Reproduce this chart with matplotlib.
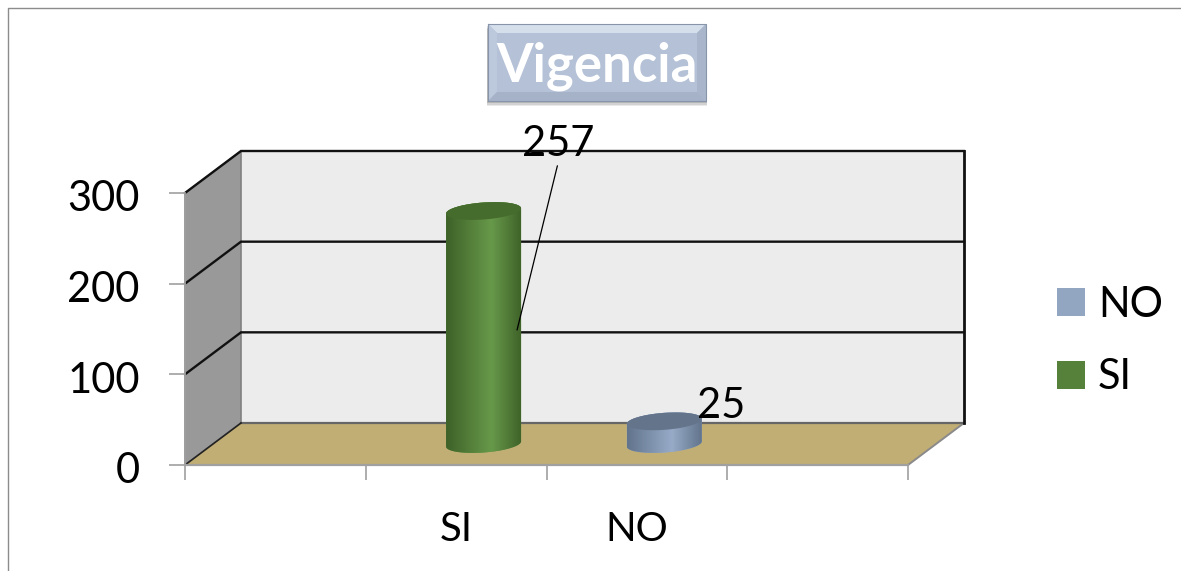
#!/usr/bin/env python3
"""Vigencia: fake 3D cylinder chart, SI vs NO."""

import matplotlib
matplotlib.use('Agg')
import matplotlib.pyplot as plt
import numpy as np
from matplotlib.colors import LinearSegmentedColormap
from matplotlib.patches import Patch, Polygon, Rectangle
from matplotlib.transforms import ScaledTranslation

plt.rcParams['font.family'] = ['Lato', 'DejaVu Sans']

TITLE = 'Vigencia'
CATEGORIES = ['', 'SI', 'NO', '']
VALUES = [257, 25]
BAR_SLOTS = [1, 2]
BAR_NAMES = ['SI', 'NO']
Y_TICKS = [0, 100, 200, 300]

W, H = 1181, 571
LEFT, RIGHT, BOTTOM, TOP = 185, 908, 465, 193

fig = plt.figure(figsize=(W / 100, H / 100), dpi=100, facecolor='white')
ax = fig.add_axes([LEFT / W, 1 - BOTTOM / H,
                   (RIGHT - LEFT) / W, (BOTTOM - TOP) / H])
ax.set_xlim(-0.5, 3.5)
ax.set_ylim(0, 300)
ax.patch.set_visible(False)

# data units per pixel, so the depth can be given in pixels
ux = 4.0 / (RIGHT - LEFT)
uy = 300.0 / (BOTTOM - TOP)
DX = 56 * ux
DY = 42 * uy
x0, x1 = -0.5, 3.5

# walls and floor
ax.add_patch(Polygon([(x0 + DX, DY), (x1 + DX, DY), (x1 + DX, 300 + DY),
                      (x0 + DX, 300 + DY)], fc='#ececec', ec='none',
                     clip_on=False, zorder=1))
ax.add_patch(Polygon([(x0, 0), (x0 + DX, DY), (x0 + DX, 300 + DY), (x0, 300)],
                     fc='#999999', ec='#808080', lw=1.2,
                     clip_on=False, zorder=1))
ax.add_patch(Polygon([(x0, 0), (x1, 0), (x1 + DX, DY), (x0 + DX, DY)],
                     fc='#c1ae74', ec='none', clip_on=False, zorder=1.2))
ax.plot([x1, x1 + DX], [0, DY], color='#8a8a8a', lw=1.4, clip_on=False, zorder=1.3)
ax.plot([x0 + DX, x1 + DX], [DY, DY], color='#666666', lw=1.6, clip_on=False, zorder=1.3)
ax.plot([x0, x0 + DX], [0, DY], color='#222222', lw=1.2, clip_on=False, zorder=1.3)

# gridlines run along side wall then back wall
for v in Y_TICKS[1:]:
    ax.plot([x0, x0 + DX, x1 + DX], [v, v + DY, v + DY], color='#111111',
            lw=1.7, clip_on=False, zorder=1.4, solid_joinstyle='miter')
ax.plot([x1 + DX, x1 + DX], [DY, 300 + DY], color='#111111', lw=2.0,
        clip_on=False, zorder=1.4)


def ellipse(cx, cy, a_px=37.5, b_px=8.5, tilt=0.07, start=0.0, stop=2 * np.pi):
    t = np.linspace(start, stop, 80)
    x = cx + a_px * ux * np.cos(t)
    y = cy + (b_px * np.sin(t) + tilt * a_px * np.cos(t)) * uy
    return np.column_stack([x, y])


def cylinder(slot, value, edge, mid, top):
    cx = slot + DX * 0.49
    base = DY * 0.5
    cmap = LinearSegmentedColormap.from_list(
        'cyl', [(0, edge), (0.6, mid), (1, edge)])
    outline = np.vstack([ellipse(cx, base, start=np.pi, stop=2 * np.pi),
                         ellipse(cx, base + value, start=0, stop=np.pi)])
    body = Polygon(outline, fc=mid, ec='none', clip_on=False, zorder=3)
    ax.add_patch(body)
    half = 37.5 * ux
    grad = np.linspace(0, 1, 256).reshape(1, -1)
    im = ax.imshow(grad, cmap=cmap, aspect='auto', zorder=3.1,
                   extent=[cx - half, cx + half, base - 15, base + value + 15])
    im.set_clip_path(body)
    ax.add_patch(Polygon(ellipse(cx, base + value), fc=top, ec='none',
                         clip_on=False, zorder=3.2))
    return cx, base + value


top_si = cylinder(BAR_SLOTS[0], VALUES[0], '#3e6128', '#67994a', '#456b2d')
top_no = cylinder(BAR_SLOTS[1], VALUES[1], '#62748c', '#97abc8', '#64748a')
ax.set_xlim(x0, x1)
ax.set_ylim(0, 300)

# data labels, the big one has a leader line down to the cylinder
ax.annotate(str(VALUES[0]), xy=(top_si[0] + 33.5 * ux, top_si[1] - 119 * uy),
            xytext=(top_si[0] + 74.5 * ux, top_si[1] + 67 * uy),
            ha='center', va='center', fontsize=30, color='black', zorder=5,
            annotation_clip=False,
            arrowprops=dict(arrowstyle='-', color='black', lw=0.9,
                            shrinkA=0, shrinkB=0, relpos=(0.5, 0)))
ax.text(top_no[0] + 57 * ux, top_no[1] + 15 * uy, str(VALUES[1]),
        ha='center', va='center', fontsize=30, color='black', zorder=5)

# axes
for side in ['top', 'right']:
    ax.spines[side].set_visible(False)
ax.spines['left'].set_color('#a0a0a0')
ax.spines['bottom'].set_color('#a0a0a0')
ax.spines['left'].set_linewidth(1.3)
ax.spines['bottom'].set_linewidth(1.6)
ax.set_yticks(Y_TICKS)
ax.set_xticks(np.arange(-0.5, 4, 1))
ax.set_xticklabels([])
ax.set_xticks(range(len(CATEGORIES)), CATEGORIES, minor=True)
ax.tick_params(axis='y', length=11.5, width=1.2, color='#a0a0a0', pad=21,
               labelsize=30)
ax.tick_params(axis='x', which='major', length=11, width=1.2, color='#a0a0a0')
ax.tick_params(axis='x', which='minor', length=0, pad=33, labelsize=29)
shift = ScaledTranslation(0, -2 / 72, fig.dpi_scale_trans)
for lab in ax.get_yticklabels():
    lab.set_transform(lab.get_transform() + shift)

# legend, NO goes first as in the source
order = [1, 0]
colors = ['#56813a', '#92a6c2']
handles = [Patch(fc=colors[i], ec='none', label=BAR_NAMES[i]) for i in order]
fig.legend(handles=handles, loc='center left',
           bbox_to_anchor=(1019.5 / W, 1 - 341 / H), frameon=False, fontsize=30,
           handlelength=0.67, handleheight=0.65, handletextpad=0.31,
           labelspacing=0.83)

# pixel overlay for chart frame and title box
ov = fig.add_axes([0, 0, 1, 1], zorder=10)
ov.set_xlim(0, W)
ov.set_ylim(H, 0)
ov.axis('off')
ov.plot([7.5, 7.5, W], [H, 7.5, 7.5], color='#8c8c8c', lw=1.0)

bx0, bx1, by0, by1 = 488, 706, 24, 101
bev = 9
for off, a in [(5, 0.12), (3.5, 0.16), (2, 0.22)]:
    ov.add_patch(Rectangle((bx0 - 1, by0 + off), bx1 - bx0 + 2, by1 - by0,
                           fc='#555555', ec='none', alpha=a))
ov.add_patch(Rectangle((bx0, by0), bx1 - bx0, by1 - by0, fc='#b4c1d6', ec='none'))
ov.add_patch(Polygon([(bx0, by0), (bx1, by0), (bx1 - bev, by0 + bev),
                      (bx0 + bev, by0 + bev)], fc='#d5dfec', ec='none'))
ov.add_patch(Polygon([(bx0, by0), (bx0 + bev, by0 + bev),
                      (bx0 + bev, by1 - bev), (bx0, by1)], fc='#bcc8db', ec='none'))
ov.add_patch(Polygon([(bx1, by0), (bx1 - bev, by0 + bev),
                      (bx1 - bev, by1 - bev), (bx1, by1)], fc='#a8b5ca', ec='none'))
ov.add_patch(Polygon([(bx0, by1), (bx0 + bev, by1 - bev),
                      (bx1 - bev, by1 - bev), (bx1, by1)], fc='#a5b2c7', ec='none'))
ov.plot([bx0, bx1, bx1, bx0, bx0], [by0, by0, by1, by1, by0], color='#8794a9', lw=0.8)
ov.text((bx0 + bx1) / 2, 66, TITLE, ha='center', va='center', color='white',
        fontsize=38, fontweight='bold')

fig.savefig('out.png', dpi=100)
plt.close(fig)
